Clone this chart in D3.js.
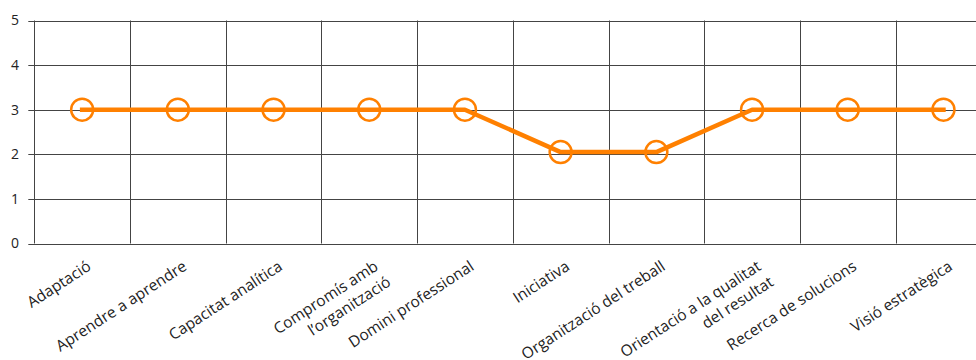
<!DOCTYPE html>
<html>
<head>
<meta charset="utf-8">
<script src="https://cdn.jsdelivr.net/npm/d3@7"></script>
<style>
  html, body { margin: 0; padding: 0; background: #fff; }
  svg { display: block; }
  text { font-family: "Open Sans", "Noto Sans", sans-serif; fill: #222; }
</style>
</head>
<body>
<svg id="chart" width="976" height="360"></svg>
<script>
const categories = [
  ["Adaptació"],
  ["Aprendre a aprendre"],
  ["Capacitat analítica"],
  ["Compromís amb", "l’organització"],
  ["Domini professional"],
  ["Iniciativa"],
  ["Organització del treball"],
  ["Orientació a la qualitat", "del resultat"],
  ["Recerca de solucions"],
  ["Visió estratègica"]
];
const values = [3, 3, 3, 3, 3, 2.05, 2.05, 3, 3, 3];
const yTicks = [0, 1, 2, 3, 4, 5];

const svg = d3.select("#chart");
const plotLeft = 34.3, plotTop = 20.5, plotBottom = 243.5, bandW = 95.7;
const keys = categories.map(d => d.join(" "));

const x = d3.scaleBand().domain(keys).range([plotLeft, plotLeft + bandW * keys.length]).padding(0);
const y = d3.scaleLinear().domain([0, 5]).range([plotBottom, plotTop]);

const grid = svg.append("g");
grid.selectAll("line.h").data(yTicks).join("line")
  .attr("x1", plotLeft - 6).attr("x2", 976)
  .attr("y1", d => Math.round(y(d)) + 0.5).attr("y2", d => Math.round(y(d)) + 0.5)
  .attr("stroke", "#444").attr("stroke-width", 1);
grid.selectAll("line.v").data(keys).join("line")
  .attr("x1", d => Math.round(x(d)) + 0.5).attr("x2", d => Math.round(x(d)) + 0.5)
  .attr("y1", y(5)).attr("y2", y(0))
  .attr("stroke", "#444").attr("stroke-width", 1);

svg.append("g").selectAll("text").data(yTicks).join("text")
  .attr("x", 19).attr("y", d => y(d))
  .attr("dy", "0.35em")
  .attr("text-anchor", "end")
  .style("font-size", "14px")
  .text(d => d);

const xl = svg.append("g").selectAll("g").data(categories).join("g")
  .attr("transform", (d, i) => `translate(${x(keys[i]) + bandW / 2 + 10},269) rotate(-33)`);
xl.each(function(lines) {
  const t = d3.select(this).append("text")
    .attr("text-anchor", "end")
    .style("font-size", "15.5px");
  lines.forEach((ln, j) => {
    t.append("tspan").attr("x", j === 0 ? 0 : 2).attr("y", j * 20).text(ln);
  });
});

const pts = values.map((v, i) => [x(keys[i]) + bandW / 2, y(v)]);
svg.append("path")
  .attr("d", d3.line()(pts))
  .attr("fill", "none")
  .attr("stroke", "#FF8000")
  .attr("stroke-width", 4.5)
  .attr("stroke-linejoin", "round")
  .attr("stroke-linecap", "square");

svg.append("g").selectAll("circle").data(pts).join("circle")
  .attr("cx", d => d[0]).attr("cy", d => d[1])
  .attr("r", 11)
  .attr("fill", "none")
  .attr("stroke", "#FF8000")
  .attr("stroke-width", 2.5);
</script>
</body>
</html>
